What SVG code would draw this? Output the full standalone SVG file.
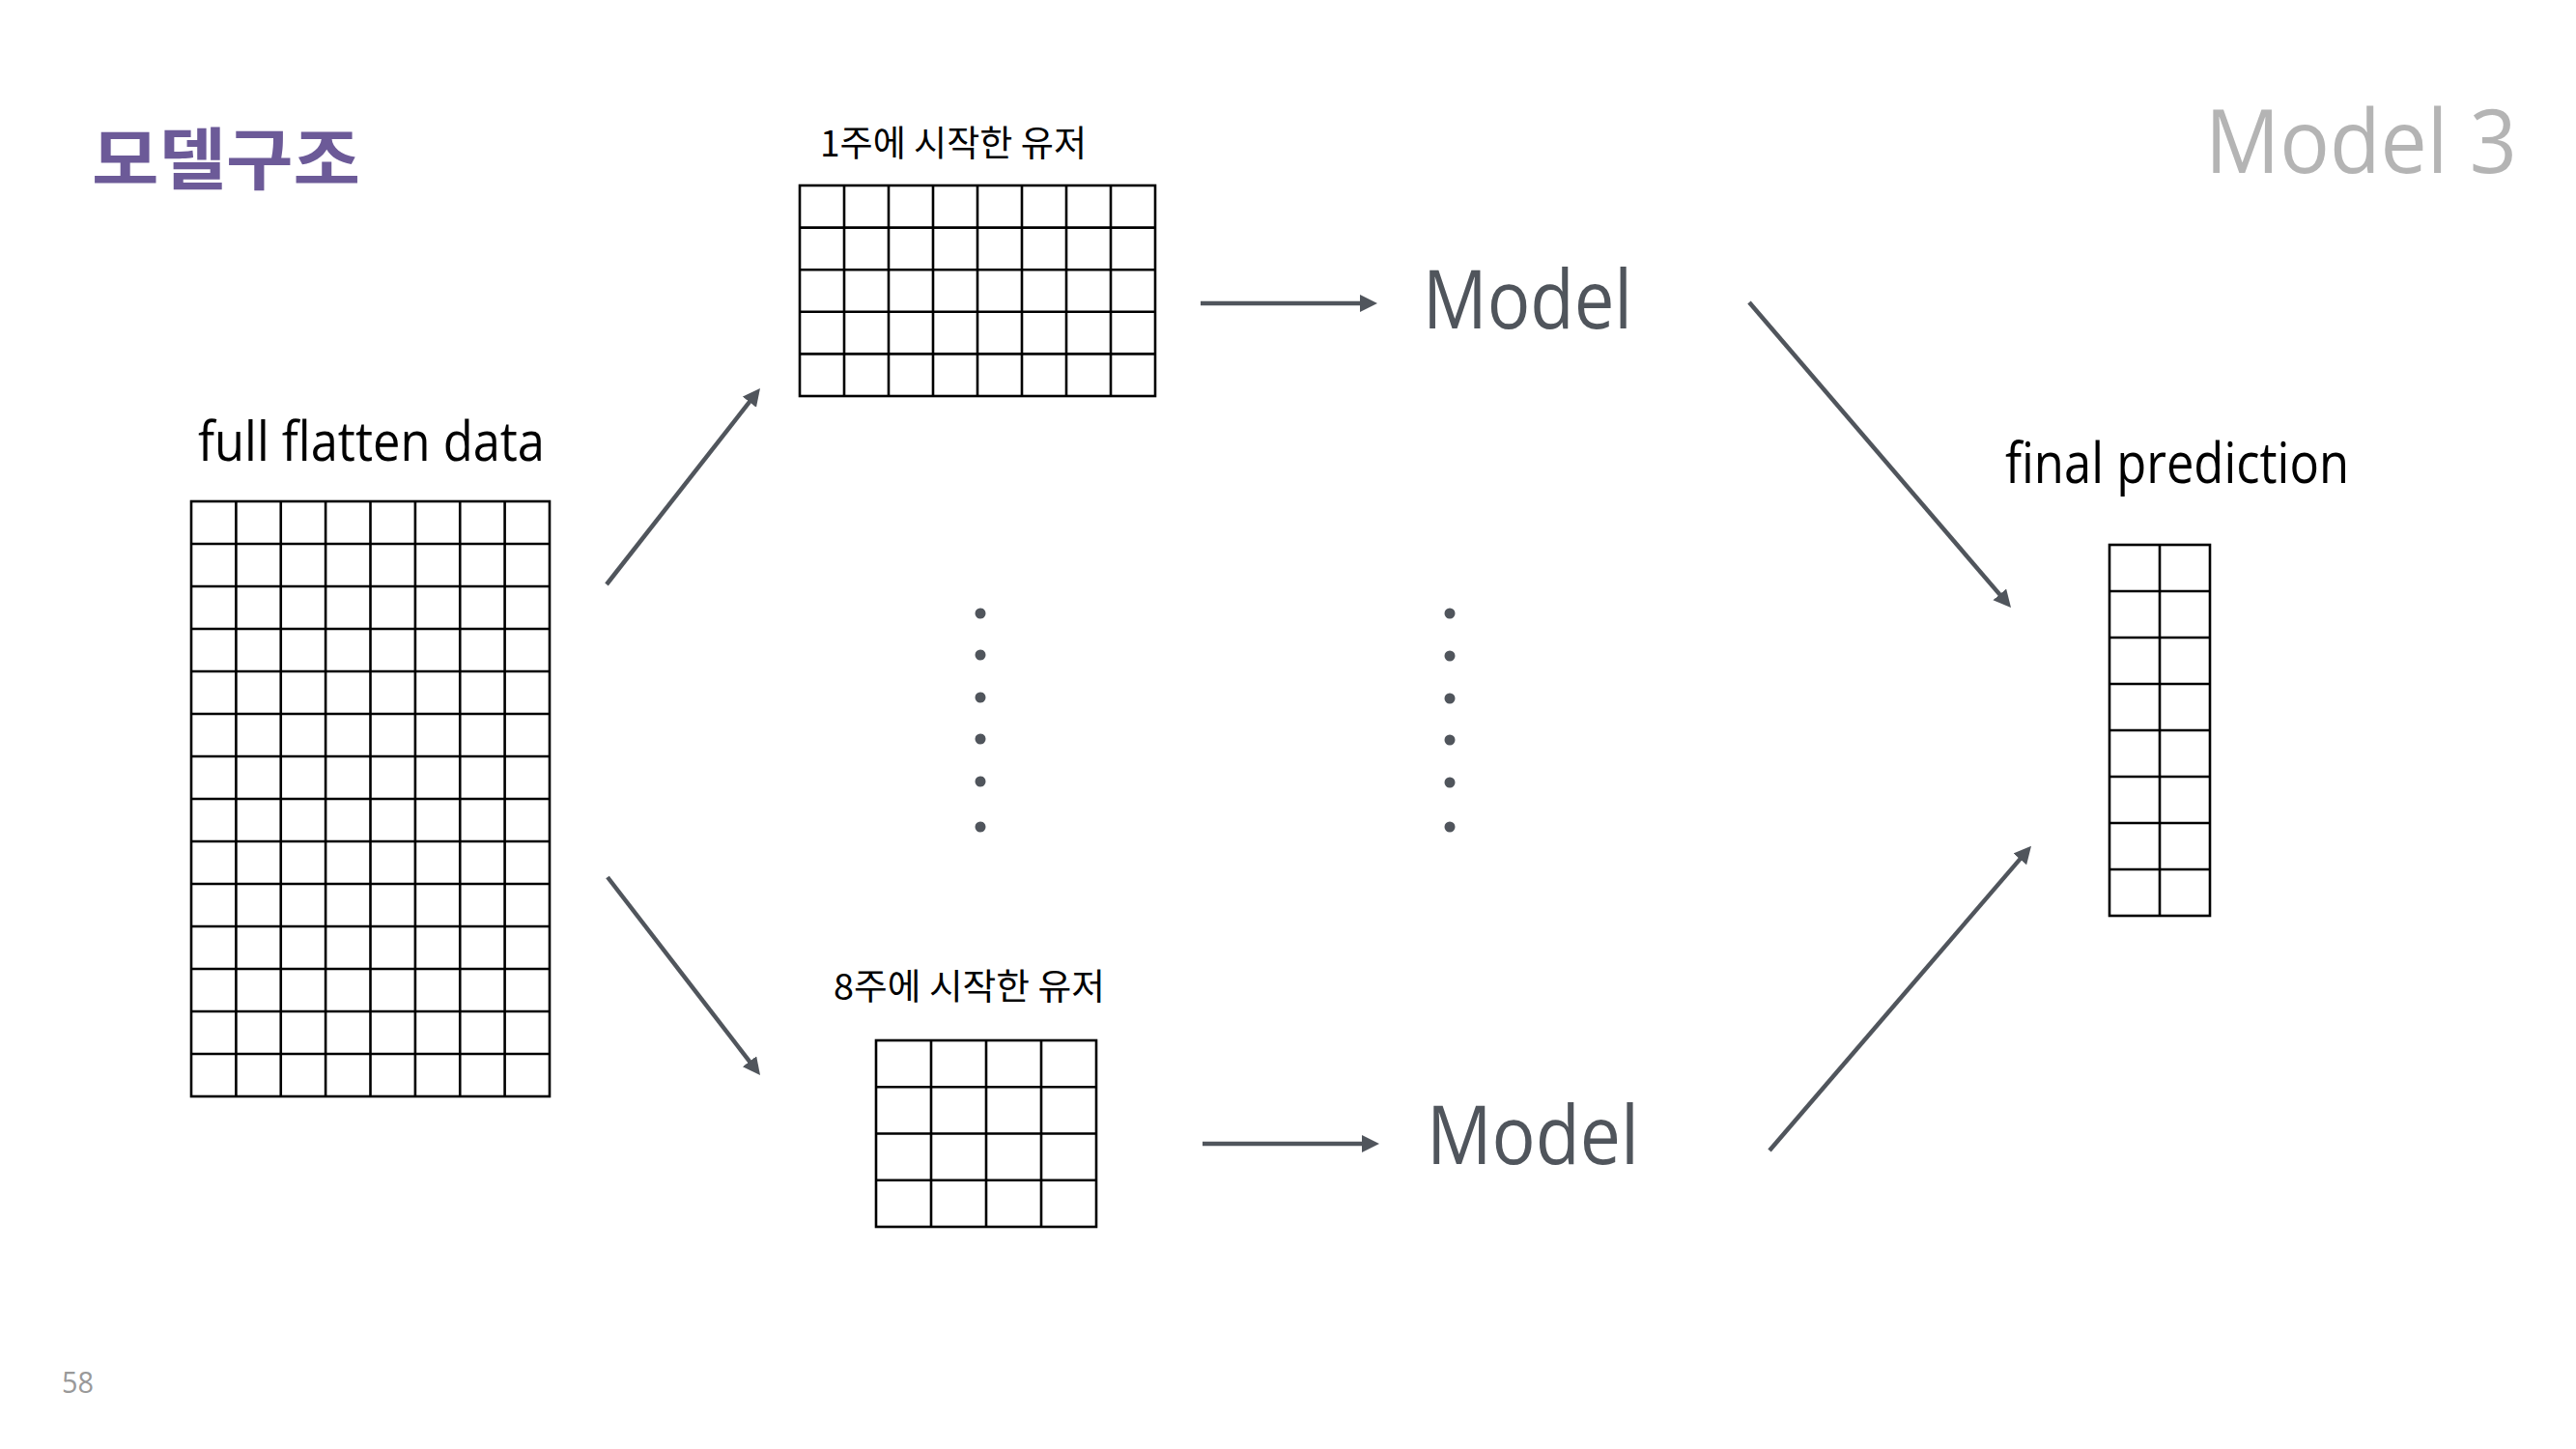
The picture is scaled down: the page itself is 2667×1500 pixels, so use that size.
<svg xmlns="http://www.w3.org/2000/svg" width="2667" height="1500" viewBox="0 0 2667 1500">
  <style>
    .grid { fill: none; stroke: #000; stroke-width: 2.6; }
    .conn { stroke: #50555c; stroke-width: 4.5; fill: none; }
    .dot { fill: #50555c; }
    .lbl { font-family: "Noto Sans CJK KR", "Noto Sans", sans-serif; fill: #000; }
    .en { font-family: "Open Sans", "Noto Sans", sans-serif; fill: #000; }
    .model { font-family: "Open Sans", "Noto Sans", sans-serif; fill: #50555c; font-size: 84px; }
  </style>
  <defs>
    <marker id="ah" markerUnits="userSpaceOnUse" markerWidth="20" markerHeight="20" refX="8" refY="9" orient="auto">
      <path d="M0,0 L18,9 L0,18 z" fill="#50555c"/>
    </marker>
  </defs>
  <rect width="2667" height="1500" fill="#fff"/>

  <g id="title">
    <text x="95" y="191" font-family="Noto Sans CJK KR, sans-serif" font-weight="bold" font-size="70" fill="#6c5a98" textLength="278" lengthAdjust="spacingAndGlyphs">모델구조</text>
  </g>
  <g id="model3">
    <text x="2283" y="179" font-family="Open Sans, Noto Sans, sans-serif" font-size="92" fill="#b4b4b4" textLength="323" lengthAdjust="spacingAndGlyphs">Model 3</text>
  </g>
  <g id="page">
    <text x="64" y="1442" font-family="Open Sans, Noto Sans, sans-serif" font-size="31" fill="#999" textLength="33" lengthAdjust="spacingAndGlyphs">58</text>
  </g>

  <g id="full-data">
    <text class="en" x="205" y="477" font-size="56" textLength="359" lengthAdjust="spacingAndGlyphs">full flatten data</text>
    <rect class="grid" x="198" y="519" width="371" height="616"/>
    <path class="grid" d="M244.4,519V1135M290.75,519V1135M337.1,519V1135M383.5,519V1135M429.9,519V1135M476.25,519V1135M522.6,519V1135
      M198,563H569M198,607H569M198,651H569M198,695H569M198,739H569M198,783H569M198,827H569M198,871H569M198,915H569M198,959H569M198,1003H569M198,1047H569M198,1091H569"/>
  </g>

  <g id="week1">
    <text class="lbl" x="849" y="162" font-size="37" textLength="276" lengthAdjust="spacingAndGlyphs">1주에 시작한 유저</text>
    <rect class="grid" x="828" y="192" width="368" height="218"/>
    <path class="grid" d="M874,192V410M920,192V410M966,192V410M1012,192V410M1058,192V410M1104,192V410M1150,192V410
      M828,235.6H1196M828,279.2H1196M828,322.8H1196M828,366.4H1196"/>
  </g>

  <g id="week8">
    <text class="lbl" x="863" y="1035" font-size="37" textLength="281" lengthAdjust="spacingAndGlyphs">8주에 시작한 유저</text>
    <rect class="grid" x="907" y="1077" width="228" height="193"/>
    <path class="grid" d="M964,1077V1270M1021,1077V1270M1078,1077V1270
      M907,1125.25H1135M907,1173.5H1135M907,1221.75H1135"/>
  </g>

  <g id="model-top">
    <text class="model" x="1473" y="340" textLength="217" lengthAdjust="spacingAndGlyphs">Model</text>
  </g>
  <g id="model-bottom">
    <text class="model" x="1477" y="1205" textLength="220" lengthAdjust="spacingAndGlyphs">Model</text>
  </g>

  <g id="final">
    <text class="en" x="2076" y="500" font-size="58" textLength="356" lengthAdjust="spacingAndGlyphs">final prediction</text>
    <rect class="grid" x="2184" y="564" width="104" height="384"/>
    <path class="grid" d="M2236,564V948
      M2184,612H2288M2184,660H2288M2184,708H2288M2184,756H2288M2184,804H2288M2184,852H2288M2184,900H2288"/>
  </g>

  <g id="ellipsis-left">
    <circle class="dot" cx="1015" cy="635" r="5.5"/>
    <circle class="dot" cx="1015" cy="678" r="5.5"/>
    <circle class="dot" cx="1015" cy="722" r="5.5"/>
    <circle class="dot" cx="1015" cy="765" r="5.5"/>
    <circle class="dot" cx="1015" cy="809" r="5.5"/>
    <circle class="dot" cx="1015" cy="856" r="5.5"/>
  </g>
  <g id="ellipsis-right">
    <circle class="dot" cx="1501" cy="635" r="5.5"/>
    <circle class="dot" cx="1501" cy="679" r="5.5"/>
    <circle class="dot" cx="1501" cy="723" r="5.5"/>
    <circle class="dot" cx="1501" cy="766" r="5.5"/>
    <circle class="dot" cx="1501" cy="810" r="5.5"/>
    <circle class="dot" cx="1501" cy="856" r="5.5"/>
  </g>

  <g id="connectors">
    <line class="conn" x1="628" y1="605" x2="780.8" y2="409.9" marker-end="url(#ah)"/>
    <line class="conn" x1="629" y1="908" x2="780.9" y2="1105.1" marker-end="url(#ah)"/>
    <line class="conn" x1="1243" y1="314" x2="1416" y2="314" marker-end="url(#ah)"/>
    <line class="conn" x1="1245" y1="1184" x2="1418" y2="1184" marker-end="url(#ah)"/>
    <line class="conn" x1="1811" y1="313" x2="2075.5" y2="621.4" marker-end="url(#ah)"/>
    <line class="conn" x1="1832" y1="1191" x2="2096.5" y2="883.4" marker-end="url(#ah)"/>
  </g>
</svg>
